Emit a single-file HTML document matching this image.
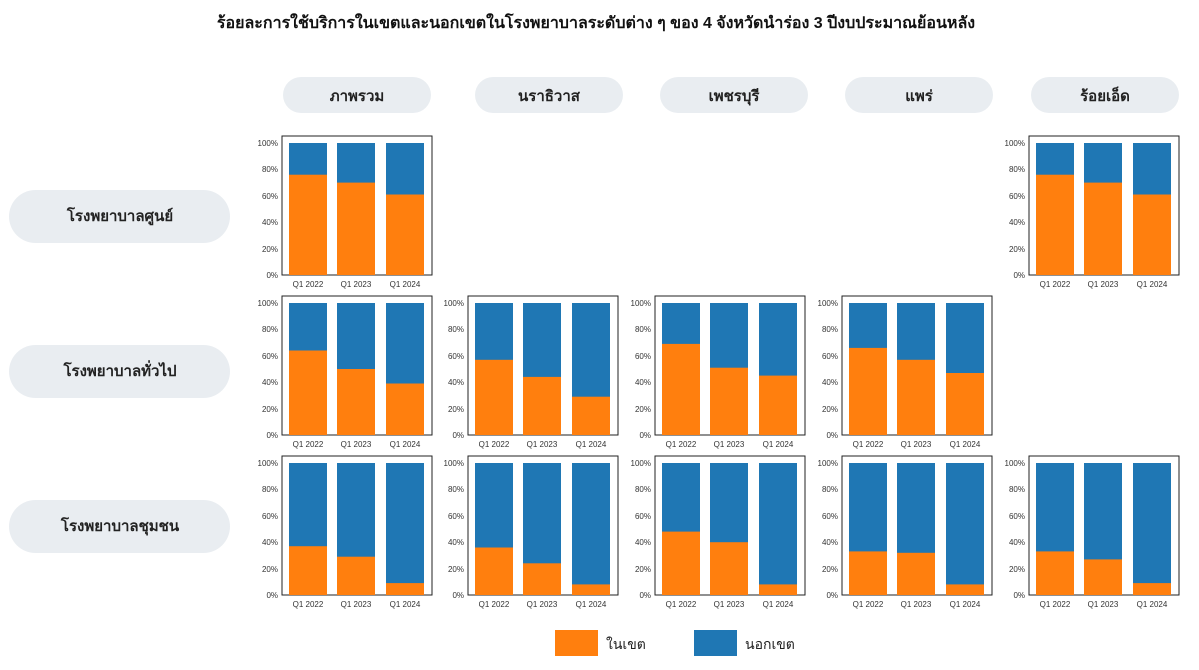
<!DOCTYPE html>
<html><head><meta charset="utf-8">
<style>
html,body{margin:0;padding:0;background:#fff;}
body{width:1199px;height:665px;overflow:hidden;position:relative;font-family:"Liberation Sans","Noto Sans CJK SC",sans-serif;}
.t{font-family:"Liberation Sans","Noto Sans CJK SC",sans-serif;}
</style></head><body>
<svg width="1199" height="665" viewBox="0 0 1199 665" xmlns="http://www.w3.org/2000/svg">
<defs></defs>
<text x="596" y="28" text-anchor="middle" font-size="16" font-weight="bold" fill="#111" class="t">ร้อยละการใช้บริการในเขตและนอกเขตในโรงพยาบาลระดับต่าง ๆ ของ 4 จังหวัดนำร่อง 3 ปีงบประมาณย้อนหลัง</text>

<g font-size="15" font-weight="bold" fill="#222" text-anchor="middle" class="t">
<rect x="283" y="77" width="148" height="36" rx="18" fill="#e9edf1"/><text x="357" y="101">ภาพรวม</text>
<rect x="475" y="77" width="148" height="36" rx="18" fill="#e9edf1"/><text x="549" y="101">นราธิวาส</text>
<rect x="660" y="77" width="148" height="36" rx="18" fill="#e9edf1"/><text x="734" y="101">เพชรบุรี</text>
<rect x="845" y="77" width="148" height="36" rx="18" fill="#e9edf1"/><text x="919" y="101">แพร่</text>
<rect x="1031" y="77" width="148" height="36" rx="18" fill="#e9edf1"/><text x="1105" y="101">ร้อยเอ็ด</text>
<rect x="9" y="190" width="221" height="53" rx="26.5" fill="#e9edf1"/><text x="120" y="221">โรงพยาบาลศูนย์</text>
<rect x="9" y="345" width="221" height="53" rx="26.5" fill="#e9edf1"/><text x="120" y="376">โรงพยาบาลทั่วไป</text>
<rect x="9" y="500" width="221" height="53" rx="26.5" fill="#e9edf1"/><text x="120" y="531">โรงพยาบาลชุมชน</text>
</g>

<!-- chart template repeated -->
<g font-size="8" fill="#333" class="t">
<!-- R1C1 -->
<g transform="translate(282,136)">
<rect x="0" y="0" width="150" height="139" fill="none" stroke="#222" stroke-width="1"/>
<g text-anchor="end"><text x="-4" y="10">100%</text><text x="-4" y="36">80%</text><text x="-4" y="63">60%</text><text x="-4" y="89">40%</text><text x="-4" y="116">20%</text><text x="-4" y="142">0%</text></g>
<rect x="7" y="7" width="38" height="132" fill="#1f77b4"/><rect x="7" y="38.7" width="38" height="100.3" fill="#ff7f0e"/>
<rect x="55" y="7" width="38" height="132" fill="#1f77b4"/><rect x="55" y="46.6" width="38" height="92.4" fill="#ff7f0e"/>
<rect x="104" y="7" width="38" height="132" fill="#1f77b4"/><rect x="104" y="58.5" width="38" height="80.5" fill="#ff7f0e"/>
<g text-anchor="middle"><text x="26" y="151">Q1 2022</text><text x="74" y="151">Q1 2023</text><text x="123" y="151">Q1 2024</text></g>
</g>
<!-- R1C5 -->
<g transform="translate(1029,136)">
<rect x="0" y="0" width="150" height="139" fill="none" stroke="#222" stroke-width="1"/>
<g text-anchor="end"><text x="-4" y="10">100%</text><text x="-4" y="36">80%</text><text x="-4" y="63">60%</text><text x="-4" y="89">40%</text><text x="-4" y="116">20%</text><text x="-4" y="142">0%</text></g>
<rect x="7" y="7" width="38" height="132" fill="#1f77b4"/><rect x="7" y="38.7" width="38" height="100.3" fill="#ff7f0e"/>
<rect x="55" y="7" width="38" height="132" fill="#1f77b4"/><rect x="55" y="46.6" width="38" height="92.4" fill="#ff7f0e"/>
<rect x="104" y="7" width="38" height="132" fill="#1f77b4"/><rect x="104" y="58.5" width="38" height="80.5" fill="#ff7f0e"/>
<g text-anchor="middle"><text x="26" y="151">Q1 2022</text><text x="74" y="151">Q1 2023</text><text x="123" y="151">Q1 2024</text></g>
</g>
<!-- R2C1 -->
<g transform="translate(282,296)">
<rect x="0" y="0" width="150" height="139" fill="none" stroke="#222" stroke-width="1"/>
<g text-anchor="end"><text x="-4" y="10">100%</text><text x="-4" y="36">80%</text><text x="-4" y="63">60%</text><text x="-4" y="89">40%</text><text x="-4" y="116">20%</text><text x="-4" y="142">0%</text></g>
<rect x="7" y="7" width="38" height="132" fill="#1f77b4"/><rect x="7" y="54.5" width="38" height="84.5" fill="#ff7f0e"/>
<rect x="55" y="7" width="38" height="132" fill="#1f77b4"/><rect x="55" y="73" width="38" height="66" fill="#ff7f0e"/>
<rect x="104" y="7" width="38" height="132" fill="#1f77b4"/><rect x="104" y="87.5" width="38" height="51.5" fill="#ff7f0e"/>
<g text-anchor="middle"><text x="26" y="151">Q1 2022</text><text x="74" y="151">Q1 2023</text><text x="123" y="151">Q1 2024</text></g>
</g>
<!-- R2C2 -->
<g transform="translate(468,296)">
<rect x="0" y="0" width="150" height="139" fill="none" stroke="#222" stroke-width="1"/>
<g text-anchor="end"><text x="-4" y="10">100%</text><text x="-4" y="36">80%</text><text x="-4" y="63">60%</text><text x="-4" y="89">40%</text><text x="-4" y="116">20%</text><text x="-4" y="142">0%</text></g>
<rect x="7" y="7" width="38" height="132" fill="#1f77b4"/><rect x="7" y="63.8" width="38" height="75.2" fill="#ff7f0e"/>
<rect x="55" y="7" width="38" height="132" fill="#1f77b4"/><rect x="55" y="80.9" width="38" height="58.1" fill="#ff7f0e"/>
<rect x="104" y="7" width="38" height="132" fill="#1f77b4"/><rect x="104" y="100.7" width="38" height="38.3" fill="#ff7f0e"/>
<g text-anchor="middle"><text x="26" y="151">Q1 2022</text><text x="74" y="151">Q1 2023</text><text x="123" y="151">Q1 2024</text></g>
</g>
<!-- R2C3 -->
<g transform="translate(655,296)">
<rect x="0" y="0" width="150" height="139" fill="none" stroke="#222" stroke-width="1"/>
<g text-anchor="end"><text x="-4" y="10">100%</text><text x="-4" y="36">80%</text><text x="-4" y="63">60%</text><text x="-4" y="89">40%</text><text x="-4" y="116">20%</text><text x="-4" y="142">0%</text></g>
<rect x="7" y="7" width="38" height="132" fill="#1f77b4"/><rect x="7" y="47.9" width="38" height="91.1" fill="#ff7f0e"/>
<rect x="55" y="7" width="38" height="132" fill="#1f77b4"/><rect x="55" y="71.7" width="38" height="67.3" fill="#ff7f0e"/>
<rect x="104" y="7" width="38" height="132" fill="#1f77b4"/><rect x="104" y="79.6" width="38" height="59.4" fill="#ff7f0e"/>
<g text-anchor="middle"><text x="26" y="151">Q1 2022</text><text x="74" y="151">Q1 2023</text><text x="123" y="151">Q1 2024</text></g>
</g>
<!-- R2C4 -->
<g transform="translate(842,296)">
<rect x="0" y="0" width="150" height="139" fill="none" stroke="#222" stroke-width="1"/>
<g text-anchor="end"><text x="-4" y="10">100%</text><text x="-4" y="36">80%</text><text x="-4" y="63">60%</text><text x="-4" y="89">40%</text><text x="-4" y="116">20%</text><text x="-4" y="142">0%</text></g>
<rect x="7" y="7" width="38" height="132" fill="#1f77b4"/><rect x="7" y="51.9" width="38" height="87.1" fill="#ff7f0e"/>
<rect x="55" y="7" width="38" height="132" fill="#1f77b4"/><rect x="55" y="63.8" width="38" height="75.2" fill="#ff7f0e"/>
<rect x="104" y="7" width="38" height="132" fill="#1f77b4"/><rect x="104" y="77" width="38" height="62" fill="#ff7f0e"/>
<g text-anchor="middle"><text x="26" y="151">Q1 2022</text><text x="74" y="151">Q1 2023</text><text x="123" y="151">Q1 2024</text></g>
</g>
<!-- R3C1 -->
<g transform="translate(282,456)">
<rect x="0" y="0" width="150" height="139" fill="none" stroke="#222" stroke-width="1"/>
<g text-anchor="end"><text x="-4" y="10">100%</text><text x="-4" y="36">80%</text><text x="-4" y="63">60%</text><text x="-4" y="89">40%</text><text x="-4" y="116">20%</text><text x="-4" y="142">0%</text></g>
<rect x="7" y="7" width="38" height="132" fill="#1f77b4"/><rect x="7" y="90.2" width="38" height="48.8" fill="#ff7f0e"/>
<rect x="55" y="7" width="38" height="132" fill="#1f77b4"/><rect x="55" y="100.7" width="38" height="38.3" fill="#ff7f0e"/>
<rect x="104" y="7" width="38" height="132" fill="#1f77b4"/><rect x="104" y="127.1" width="38" height="11.9" fill="#ff7f0e"/>
<g text-anchor="middle"><text x="26" y="151">Q1 2022</text><text x="74" y="151">Q1 2023</text><text x="123" y="151">Q1 2024</text></g>
</g>
<!-- R3C2 -->
<g transform="translate(468,456)">
<rect x="0" y="0" width="150" height="139" fill="none" stroke="#222" stroke-width="1"/>
<g text-anchor="end"><text x="-4" y="10">100%</text><text x="-4" y="36">80%</text><text x="-4" y="63">60%</text><text x="-4" y="89">40%</text><text x="-4" y="116">20%</text><text x="-4" y="142">0%</text></g>
<rect x="7" y="7" width="38" height="132" fill="#1f77b4"/><rect x="7" y="91.5" width="38" height="47.5" fill="#ff7f0e"/>
<rect x="55" y="7" width="38" height="132" fill="#1f77b4"/><rect x="55" y="107.3" width="38" height="31.7" fill="#ff7f0e"/>
<rect x="104" y="7" width="38" height="132" fill="#1f77b4"/><rect x="104" y="128.4" width="38" height="10.6" fill="#ff7f0e"/>
<g text-anchor="middle"><text x="26" y="151">Q1 2022</text><text x="74" y="151">Q1 2023</text><text x="123" y="151">Q1 2024</text></g>
</g>
<!-- R3C3 -->
<g transform="translate(655,456)">
<rect x="0" y="0" width="150" height="139" fill="none" stroke="#222" stroke-width="1"/>
<g text-anchor="end"><text x="-4" y="10">100%</text><text x="-4" y="36">80%</text><text x="-4" y="63">60%</text><text x="-4" y="89">40%</text><text x="-4" y="116">20%</text><text x="-4" y="142">0%</text></g>
<rect x="7" y="7" width="38" height="132" fill="#1f77b4"/><rect x="7" y="75.6" width="38" height="63.4" fill="#ff7f0e"/>
<rect x="55" y="7" width="38" height="132" fill="#1f77b4"/><rect x="55" y="86.2" width="38" height="52.8" fill="#ff7f0e"/>
<rect x="104" y="7" width="38" height="132" fill="#1f77b4"/><rect x="104" y="128.4" width="38" height="10.6" fill="#ff7f0e"/>
<g text-anchor="middle"><text x="26" y="151">Q1 2022</text><text x="74" y="151">Q1 2023</text><text x="123" y="151">Q1 2024</text></g>
</g>
<!-- R3C4 -->
<g transform="translate(842,456)">
<rect x="0" y="0" width="150" height="139" fill="none" stroke="#222" stroke-width="1"/>
<g text-anchor="end"><text x="-4" y="10">100%</text><text x="-4" y="36">80%</text><text x="-4" y="63">60%</text><text x="-4" y="89">40%</text><text x="-4" y="116">20%</text><text x="-4" y="142">0%</text></g>
<rect x="7" y="7" width="38" height="132" fill="#1f77b4"/><rect x="7" y="95.4" width="38" height="43.6" fill="#ff7f0e"/>
<rect x="55" y="7" width="38" height="132" fill="#1f77b4"/><rect x="55" y="96.8" width="38" height="42.2" fill="#ff7f0e"/>
<rect x="104" y="7" width="38" height="132" fill="#1f77b4"/><rect x="104" y="128.4" width="38" height="10.6" fill="#ff7f0e"/>
<g text-anchor="middle"><text x="26" y="151">Q1 2022</text><text x="74" y="151">Q1 2023</text><text x="123" y="151">Q1 2024</text></g>
</g>
<!-- R3C5 -->
<g transform="translate(1029,456)">
<rect x="0" y="0" width="150" height="139" fill="none" stroke="#222" stroke-width="1"/>
<g text-anchor="end"><text x="-4" y="10">100%</text><text x="-4" y="36">80%</text><text x="-4" y="63">60%</text><text x="-4" y="89">40%</text><text x="-4" y="116">20%</text><text x="-4" y="142">0%</text></g>
<rect x="7" y="7" width="38" height="132" fill="#1f77b4"/><rect x="7" y="95.4" width="38" height="43.6" fill="#ff7f0e"/>
<rect x="55" y="7" width="38" height="132" fill="#1f77b4"/><rect x="55" y="103.4" width="38" height="35.6" fill="#ff7f0e"/>
<rect x="104" y="7" width="38" height="132" fill="#1f77b4"/><rect x="104" y="127.1" width="38" height="11.9" fill="#ff7f0e"/>
<g text-anchor="middle"><text x="26" y="151">Q1 2022</text><text x="74" y="151">Q1 2023</text><text x="123" y="151">Q1 2024</text></g>
</g>
</g>

<!-- legend -->
<rect x="555" y="630" width="43" height="26" fill="#ff7f0e"/>
<text x="606" y="649" font-size="14" fill="#222" class="t">ในเขต</text>
<rect x="694" y="630" width="43" height="26" fill="#1f77b4"/>
<text x="745" y="649" font-size="14" fill="#222" class="t">นอกเขต</text>
</svg>
</body></html>
